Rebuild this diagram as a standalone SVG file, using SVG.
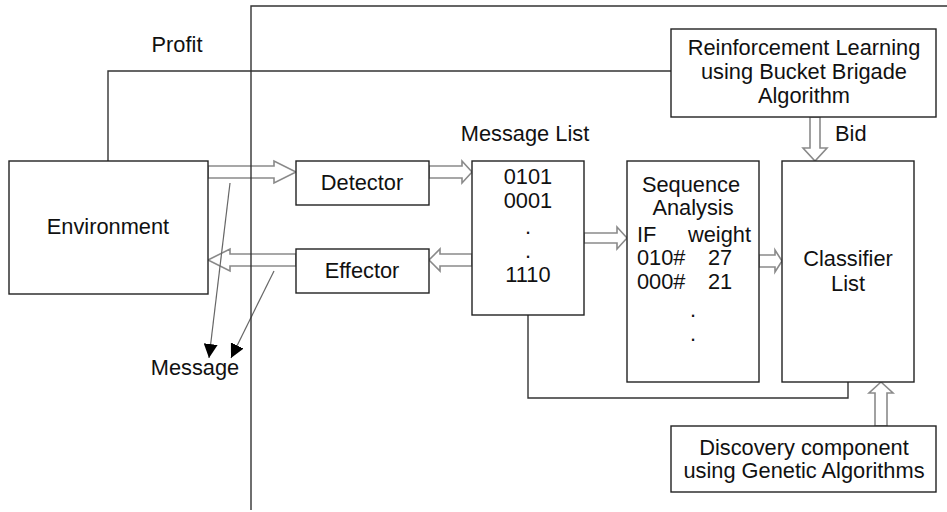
<svg xmlns="http://www.w3.org/2000/svg" width="947" height="512" viewBox="0 0 947 512">
<defs>
<marker id="ah" viewBox="0 0 10 10" refX="10" refY="5" markerWidth="14" markerHeight="14" markerUnits="userSpaceOnUse" orient="auto">
<path d="M0,0 L10,5 L0,10 Z" fill="#000"/>
</marker>
<style>
.box{fill:#fff;stroke:#222;stroke-width:1.4}
.ln{fill:none;stroke:#333;stroke-width:1.4}
.ha{fill:#fff;stroke:#8a8a8a;stroke-width:1.6;stroke-linejoin:miter}
.thin{fill:none;stroke:#666;stroke-width:1.2}
text{font-family:"Liberation Sans",Arial,sans-serif;font-size:21.8px;fill:#111}
.c{text-anchor:middle}
</style>
</defs>
<rect width="947" height="512" fill="#fff"/>
<g id="connectors">
<polyline class="ln" points="108,161 108,71 671,71"/>
<polyline class="ln" points="528,315 528,398 848,398 848,382"/>
<polygon class="ha" points="208,166 274,166 274,161 296,172 274,183 274,178 208,178"/>
<polygon class="ha" points="296,254 230,254 230,249 208,260 230,271 230,266 296,266"/>
<polygon class="ha" points="429,166 462,166 462,161 472,172 462,183 462,178 429,178"/>
<polygon class="ha" points="472,254 440,254 440,249 429,260 440,271 440,266 472,266"/>
<polygon class="ha" points="584,233 617,233 617,227 627,238 617,249 617,243 584,243"/>
<polygon class="ha" points="759,255 775,255 775,250 782,261 775,272 775,267 759,267"/>
<polygon class="ha" points="810,117 810,148 803,148 815,161 827,148 820,148 820,117"/>
<polygon class="ha" points="875,426 875,393 869,393 881,382 893,393 887,393 887,426"/>
<line class="thin" x1="230" y1="183" x2="209" y2="358" marker-end="url(#ah)"/>
<line class="thin" x1="274" y1="271" x2="231" y2="358" marker-end="url(#ah)"/>
<polyline class="ln" points="251,510 251,6 947,6"/>
</g>
<text x="177" y="52" class="c">Profit</text>
<text x="195" y="375" class="c">Message</text>
<text x="835" y="141">Bid</text>
<g id="environment">
<rect class="box" x="9" y="161" width="199" height="133"/>
<text x="108" y="234" class="c">Environment</text>
</g>
<g id="detector">
<rect class="box" x="296" y="161" width="133" height="44"/>
<text x="362" y="190" class="c">Detector</text>
</g>
<g id="effector">
<rect class="box" x="296" y="249" width="133" height="44"/>
<text x="362" y="278" class="c">Effector</text>
</g>
<g id="message-list">
<text x="525" y="141" class="c">Message List</text>
<rect class="box" x="472" y="161" width="112" height="154"/>
<text x="528" y="184" class="c">0101</text>
<text x="528" y="208" class="c">0001</text>
<text x="528" y="234" class="c">.</text>
<text x="528" y="258" class="c">.</text>
<text x="528" y="282" class="c">1110</text>
</g>
<g id="sequence-analysis">
<rect class="box" x="627" y="161" width="132" height="221"/>
<text x="691" y="192" class="c">Sequence</text>
<text x="693" y="215" class="c">Analysis</text>
<text x="637" y="242">IF</text>
<text x="688" y="242">weight</text>
<text x="637" y="265">010#</text>
<text x="708" y="265">27</text>
<text x="637" y="289">000#</text>
<text x="708" y="289">21</text>
<text x="693" y="317" class="c">.</text>
<text x="693" y="341" class="c">.</text>
</g>
<g id="classifier-list">
<rect class="box" x="782" y="161" width="132" height="221"/>
<text x="848" y="266" class="c">Classifier</text>
<text x="848" y="291" class="c">List</text>
</g>
<g id="reinforcement-learning">
<rect class="box" x="671" y="29" width="265" height="88"/>
<text x="804" y="55" class="c">Reinforcement Learning</text>
<text x="804" y="79" class="c">using Bucket Brigade</text>
<text x="804" y="103" class="c">Algorithm</text>
</g>
<g id="discovery">
<rect class="box" x="671" y="426" width="265" height="66"/>
<text x="804" y="455" class="c">Discovery component</text>
<text x="804" y="478" class="c">using Genetic Algorithms</text>
</g>
</svg>
